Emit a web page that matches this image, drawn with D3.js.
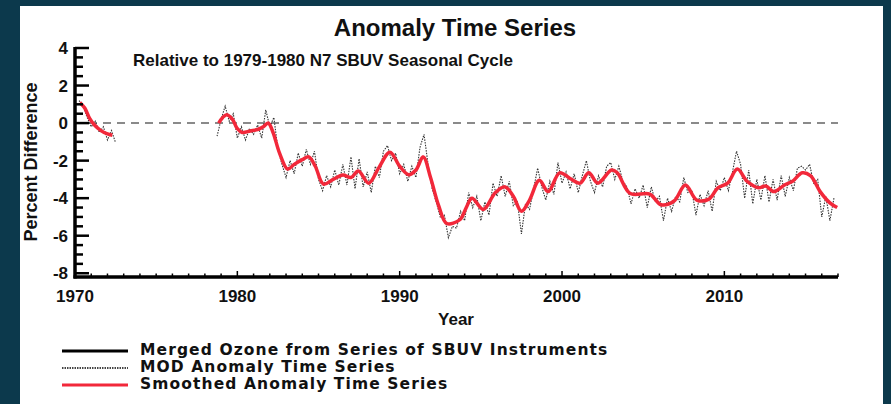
<!DOCTYPE html>
<html>
<head>
<meta charset="utf-8">
<script src="https://cdn.jsdelivr.net/npm/d3@7"></script>
<style>
  body { margin: 0; background: #0c394c; }
  svg text { font-family: "Liberation Sans", Arial, Helvetica, sans-serif; font-weight: bold; fill: #111; }
</style>
</head>
<body>
<div id="chart"></div>
<script>
(function anomalyChart() {

  // smoothed anomaly (red), two pieces: BUV 1970-72 and SBUV 1979 on
  var smoothYearsA = [1970.3, 1970.6, 1970.9, 1971.2, 1971.6, 1972.0, 1972.3];
  var smoothValsA  = [1.1, 0.8, 0.25, -0.1, -0.4, -0.58, -0.65];

  var smoothYearsB = [1978.85, 1979.1, 1979.35, 1979.7, 1980.0, 1980.3, 1980.8, 1981.3, 1981.6, 1981.9,
    1982.2, 1982.6, 1983.1, 1983.5, 1984.0, 1984.4, 1984.8, 1985.3, 1985.9, 1986.5,
    1987.0, 1987.45, 1988.1, 1988.7, 1989.4, 1990.0, 1990.55, 1991.0, 1991.45, 1991.9,
    1992.4, 1992.9, 1993.7, 1994.1, 1994.45, 1995.15, 1995.9, 1996.5, 1997.0, 1997.5,
    1998.0, 1998.6, 1999.15, 1999.85, 2000.5, 2001.1, 2001.65, 2002.2, 2003.05, 2003.4,
    2004.2, 2005.4, 2006.1, 2006.9, 2007.6, 2008.3, 2009.05, 2009.6, 2010.2, 2010.8,
    2011.4, 2012.1, 2012.55, 2013.05, 2013.7, 2014.2, 2014.8, 2015.3, 2015.9, 2016.5, 2016.95];
  var smoothValsB = [0.0, 0.3, 0.45, 0.2, -0.3, -0.5, -0.42, -0.33, -0.2, 0.0,
    -0.5, -1.6, -2.45, -2.2, -1.95, -1.8, -2.3, -3.25, -3.0, -2.77,
    -2.9, -2.55, -3.2, -2.4, -1.55, -2.3, -2.75, -2.5, -1.8, -2.9,
    -4.4, -5.35, -5.15, -4.5, -4.0, -4.6, -3.7, -3.4, -3.9, -4.7,
    -4.1, -3.05, -3.65, -2.65, -2.95, -3.2, -2.65, -3.2, -2.5, -2.65,
    -3.75, -3.78, -4.35, -4.15, -3.3, -4.1, -4.05, -3.45, -3.2, -2.45,
    -3.1, -3.45, -3.35, -3.65, -3.3, -3.1, -2.65, -2.8, -3.65, -4.25, -4.5];

  // MOD anomaly time series (dotted), quarterly samples
  var modStep = 0.25;
  var modStartA = 1970.25;
  var modValsA = [1.2, 0.9, 0.3, -0.2, 0.1, -0.5, -0.2, -0.9, -0.4, -1.05];
  var modStartB = 1978.75;
  var modValsB = [-0.7,
    0.2, 0.9, 0.1, 0.5,     -0.8, -0.2, -0.9, -0.3,   -0.6, -0.1, -0.8, 0.7,    -0.2, 0.3, -1.4, -2.2,
    -2.9, -2.0, -2.7, -1.6, -2.3, -1.4, -2.2, -1.5,   -3.0, -3.6, -2.8, -3.4,   -2.5, -3.3, -2.2, -3.3,
    -1.8, -3.5, -1.9, -3.4, -2.6, -3.7, -2.3, -2.9,   -1.5, -1.2, -2.0, -1.6,   -2.7, -2.2, -3.1, -2.3,
    -2.9, -1.3, -0.6, -2.2, -3.5, -4.2, -5.0, -4.9,   -6.1, -5.5, -5.6, -4.7,   -5.2, -3.7, -4.5, -3.9,
    -5.2, -4.2, -4.9, -3.2, -3.9, -2.8, -3.9, -3.1,   -4.4, -4.2, -5.9, -4.3,   -4.6, -3.5, -2.4, -3.4,
    -4.1, -3.1, -3.8, -2.1, -3.2, -2.6, -3.5, -2.7,   -3.7, -2.8, -2.0, -3.1,   -3.7, -2.8, -3.4, -2.3,
    -2.1, -3.0, -2.3, -3.1, -3.4, -4.3, -3.5, -4.0,   -3.3, -4.5, -3.4, -4.2,   -3.9, -5.2, -4.0, -4.7,
    -3.9, -4.2, -2.9, -3.7, -3.6, -4.9, -3.8, -4.4,   -3.6, -4.7, -3.1, -3.6,   -2.9, -3.6, -2.6, -1.5,
    -2.2, -4.0, -2.5, -4.3, -3.0, -4.1, -2.8, -4.2,   -3.0, -4.1, -2.8, -3.9,   -2.9, -3.6, -2.4, -2.3,
    -2.5, -2.2, -3.2, -3.0, -5.0, -3.9, -5.2, -4.0];

  var yTicks = [4, 2, 0, -2, -4, -6, -8];
  var xTicks = [1970, 1980, 1990, 2000, 2010];
  var legendLabels = ["Merged Ozone from Series of SBUV Instruments", "MOD Anomaly Time Series", "Smoothed Anomaly Time Series"];

  var redColor = "#f2283a";

  var svg = d3.select("#chart").append("svg")
      .attr("width", 891)
      .attr("height", 404);

  // white panel
  svg.append("rect")
      .attr("x", 20).attr("y", 6)
      .attr("width", 863).attr("height", 400)
      .attr("fill", "#fff");

  var x = d3.scaleLinear().domain([1970, 2017]).range([75, 838]);
  var y = d3.scaleLinear().domain([-8.2, 4]).range([277, 48]);

  function pairs(years, vals) {
    return years.map(function(yr, i) { return [yr, vals[i]]; });
  }
  function stepped(start, vals) {
    return vals.map(function(v, i) { return [start + i * modStep, v]; });
  }

  // zero reference
  svg.append("line")
      .attr("x1", x(1970)).attr("x2", x(2017))
      .attr("y1", y(0)).attr("y2", y(0))
      .attr("stroke", "#8a8a8a")
      .attr("stroke-width", 2)
      .attr("stroke-dasharray", "8,6");

  var modLine = d3.line()
      .x(function(d) { return x(d[0]); })
      .y(function(d) { return y(d[1]); });

  [stepped(modStartA, modValsA), stepped(modStartB, modValsB)].forEach(function(seg) {
    svg.append("path")
        .attr("d", modLine(seg))
        .attr("fill", "none")
        .attr("stroke", "#333")
        .attr("stroke-width", 1.1)
        .attr("stroke-dasharray", "1.5,1.2");
  });

  var smoothLine = d3.line()
      .curve(d3.curveCatmullRom.alpha(0.5))
      .x(function(d) { return x(d[0]); })
      .y(function(d) { return y(d[1]); });

  [pairs(smoothYearsA, smoothValsA), pairs(smoothYearsB, smoothValsB)].forEach(function(seg) {
    svg.append("path")
        .attr("d", smoothLine(seg))
        .attr("fill", "none")
        .attr("stroke", redColor)
        .attr("stroke-width", 3.5)
        .attr("stroke-linejoin", "round");
  });

  // y axis: ticks drawn inward (to the right)
  var yMinor = d3.range(-8, 4.01, 0.5);
  var yAxis = svg.append("g").attr("transform", "translate(" + x(1970) + ",0)");
  yAxis.selectAll("line.minor")
      .data(yMinor)
    .enter().append("line")
      .attr("x1", 0).attr("x2", function(d) { return d % 2 === 0 ? 14 : 8; })
      .attr("y1", function(d) { return y(d); })
      .attr("y2", function(d) { return y(d); })
      .attr("stroke", "#000")
      .attr("stroke-width", 2.5);
  yAxis.append("line")
      .attr("x1", 0).attr("x2", 0)
      .attr("y1", y(4) - 1).attr("y2", y(-8.2) + 1.5)
      .attr("stroke", "#000")
      .attr("stroke-width", 3.5);
  yAxis.selectAll("text")
      .data(yTicks)
    .enter().append("text")
      .attr("x", -7)
      .attr("y", function(d) { return y(d); })
      .attr("dy", "0.36em")
      .attr("text-anchor", "end")
      .style("font-size", "17px")
      .text(function(d) { return d; });

  // x axis
  var xMinor = d3.range(1970, 2017.01, 1);
  var xAxis = svg.append("g").attr("transform", "translate(0," + y(-8.2) + ")");
  xAxis.selectAll("line")
      .data(xMinor)
    .enter().append("line")
      .attr("x1", function(d) { return x(d); })
      .attr("x2", function(d) { return x(d); })
      .attr("y1", 0)
      .attr("y2", function(d) { return d % 10 === 0 ? -6 : -3.5; })
      .attr("stroke", "#000")
      .attr("stroke-width", 1.5);
  xAxis.append("line")
      .attr("x1", x(1970) - 1.5).attr("x2", x(2017))
      .attr("y1", 0).attr("y2", 0)
      .attr("stroke", "#000")
      .attr("stroke-width", 3.5);
  xAxis.selectAll("text")
      .data(xTicks)
    .enter().append("text")
      .attr("x", function(d) { return x(d); })
      .attr("y", 25)
      .attr("text-anchor", "middle")
      .style("font-size", "17px")
      .text(function(d) { return d; });

  svg.append("text")
      .attr("x", 456).attr("y", 325)
      .attr("text-anchor", "middle")
      .style("font-size", "17px")
      .text("Year");

  svg.append("text")
      .attr("transform", "translate(37,162) rotate(-90)")
      .attr("text-anchor", "middle")
      .style("font-size", "18px")
      .text("Percent Difference");

  svg.append("text")
      .attr("x", 455).attr("y", 36)
      .attr("text-anchor", "middle")
      .style("font-size", "24px")
      .text("Anomaly Time Series");

  svg.append("text")
      .attr("x", 133).attr("y", 66)
      .style("font-size", "17px")
      .text("Relative to 1979-1980 N7 SBUV Seasonal Cycle");

  // legend
  var legend = svg.selectAll(".legend")
      .data(legendLabels)
    .enter().append("g")
      .attr("class", "legend")
      .attr("transform", function(d, i) { return "translate(0," + (351 + i * 17) + ")"; });

  legend.append("line")
      .attr("x1", 62).attr("x2", 128)
      .attr("y1", 0).attr("y2", 0)
      .attr("stroke", function(d, i) { return i === 2 ? redColor : (i === 1 ? "#444" : "#000"); })
      .attr("stroke-width", function(d, i) { return i === 1 ? 2 : 3; })
      .attr("stroke-dasharray", function(d, i) { return i === 1 ? "1.5,1" : null; });

  legend.append("text")
      .attr("x", 140)
      .attr("y", 4)
      .style("font-family", "'DejaVu Sans', sans-serif")
      .style("font-size", "15.5px")
      .style("letter-spacing", "1.1px")
      .text(function(d) { return d; });

}());
</script>
</body>
</html>
